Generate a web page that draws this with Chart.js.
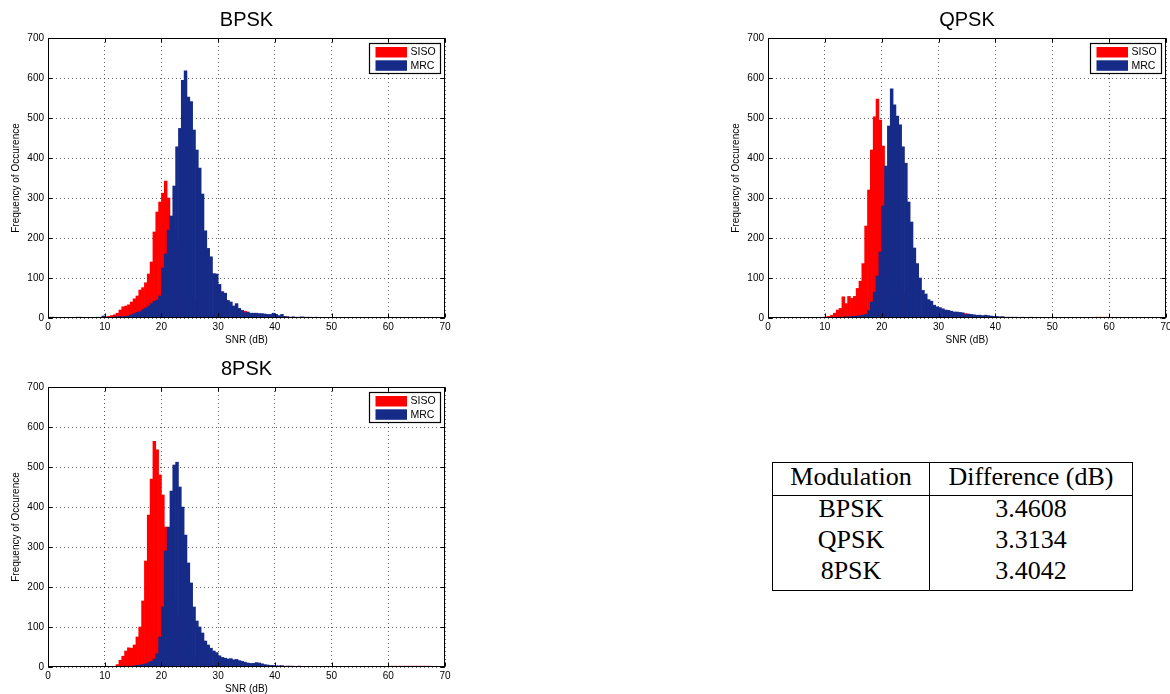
<!DOCTYPE html>
<html>
<head>
<meta charset="utf-8">
<script src="https://cdn.jsdelivr.net/npm/chart.js@4.4.1/dist/chart.umd.min.js"></script>
<style>
  html, body { margin: 0; padding: 0; background: #fff; width: 1170px; height: 694px; overflow: hidden; }
  .panel { position: absolute; }
  canvas { display: block; }
  #tbl { position: absolute; left: 772px; top: 462px; width: 361px; border-collapse: collapse;
         border: 1px solid #000; font-family: 'Liberation Serif', 'Times New Roman', serif; font-size: 26px; color: #000; }
  #tbl th { font-weight: normal; line-height: 28px; padding: 0 0 4px 0; border-bottom: 1px solid #000; text-align: center; }
  #tbl td { line-height: 26px; padding: 0 0 5.2px 0; text-align: center; }
  #tbl th:first-child, #tbl td:first-child { width: 156px; border-right: 1px solid #000; }
</style>
</head>
<body>
<div class="panel" style="left:0;top:0;width:460px;height:350px"><canvas id="cBPSK" width="460" height="350"></canvas></div>
<div class="panel" style="left:720px;top:0;width:460px;height:350px"><canvas id="cQPSK" width="460" height="350"></canvas></div>
<div class="panel" style="left:0;top:349px;width:460px;height:350px"><canvas id="c8PSK" width="460" height="350"></canvas></div>
<table id="tbl"><thead><tr></tr></thead><tbody></tbody></table>

<script>
// ---------- DATA ----------
// Histogram bins: left edges 0, 0.5, ..., 69.5 dB (bin width 0.5 dB); one row = 10 dB
const binStart = 0;
const binWidth = 0.5;
const seriesLabels = ['SISO', 'MRC'];
const xTicksMax = 70;
const yTicksMax = 700;

const bpskSiso = [
  2,2,1,0,0,0,0,0,0,0, 0,0,0,0,0,0,0,0,0,0,
  3,4,6,8,12,20,28,30,33,40, 48,55,70,76,88,110,140,215,265,290,
  312,342,300,240,215,185,155,125,100,80, 60,45,35,25,18,14,10,8,6,5,
  4,4,3,3,3,2,2,2,2,17, 5,3,2,2,2,1,1,1,1,1,
  1,1,1,2,3,1,1,0,0,0, 0,0,0,0,0,0,0,0,0,0,
  0,0,0,0,0,0,0,0,0,0, 0,0,0,0,0,0,0,0,0,0,
  0,0,0,0,0,0,0,0,0,0, 0,0,0,0,0,0,0,0,0,0
];
const bpskMrc = [
  0,1,0,0,0,0,1,0,0,1, 2,2,0,0,0,0,1,2,0,5,
  2,2,2,3,3,4,3,4,5,8, 11,14,16,21,25,30,36,42,45,55,
  125,160,220,255,330,428,474,594,618,552, 541,470,420,375,310,218,174,153,111,110,
  84,66,62,44,40,30,36,24,19,13, 15,12,12,12,11,11,10,9,9,12,
  9,6,9,4,3,2,3,2,2,3, 2,2,2,1,2,1,1,1,0,1,
  1,0,1,1,0,1,0,0,1,0, 1,0,0,1,0,0,1,0,0,1,
  0,0,1,0,0,1,0,0,0,1, 0,0,1,0,0,0,1,0,0,1
];

const qpskSiso = [
  0,0,0,0,0,0,0,0,0,0, 0,0,0,0,0,0,0,0,1,2,
  3,4,7,12,20,24,53,36,54,49, 54,74,92,136,230,320,420,503,547,495,
  430,350,270,200,150,110,80,60,45,35, 28,20,16,12,10,8,6,5,4,3,
  3,3,2,2,2,2,2,2,2,11, 3,2,1,1,1,1,1,1,1,1,
  1,1,3,1,0,0,0,0,0,0, 0,0,0,0,0,0,0,0,0,0,
  0,0,0,0,0,0,0,0,0,0, 0,0,0,0,0,2,2,2,2,2,
  0,0,0,0,0,0,0,0,0,0, 0,0,0,0,0,0,0,0,0,0
];
const qpskMrc = [
  0,0,0,0,0,0,0,1,0,1, 0,1,0,1,0,1,0,1,1,1,
  1,1,2,1,2,2,2,3,3,4, 4,5,6,7,9,19,40,65,105,165,
  280,380,480,573,533,505,483,428,387,290, 240,175,136,100,69,60,46,42,32,28,
  26,23,20,19,17,15,15,14,13,8, 10,9,8,7,7,6,7,6,5,4,
  4,3,3,2,2,2,2,2,1,2, 1,1,2,1,1,1,1,1,1,1,
  1,1,0,1,1,0,1,0,1,0, 1,0,1,0,0,1,0,0,1,0,
  1,0,0,1,0,0,0,1,0,0, 1,0,0,0,1,0,0,0,0,0
];

const psk8Siso = [
  0,0,0,0,0,0,0,0,0,0, 0,0,0,0,0,0,0,0,0,0,
  0,0,0,0,6,17,27,40,48,47, 55,75,100,165,265,380,470,564,543,480,
  430,350,290,220,170,130,100,75,55,42, 32,25,20,15,12,10,8,6,5,4,
  3,3,2,2,2,2,2,2,1,1, 1,1,1,1,1,1,1,1,1,2,
  2,1,3,1,2,2,1,1,2,1, 1,0,1,0,0,0,0,0,0,0,
  0,0,0,0,0,0,0,0,0,0, 0,0,0,0,0,0,0,0,0,0,
  2,2,2,2,2,2,2,2,2,2, 2,2,2,2,2,0,0,0,0,0
];
const psk8Mrc = [
  0,0,0,0,0,0,0,0,0,0, 0,0,0,0,0,0,0,0,0,0,
  2,1,1,1,1,2,2,2,2,2, 3,4,5,6,8,11,14,20,33,75,
  150,290,350,440,505,512,450,400,330,260, 210,150,115,100,85,65,55,47,40,36,
  28,24,22,20,21,18,19,16,14,12, 10,9,9,11,10,8,6,5,4,4,
  3,3,3,2,2,2,2,1,2,1, 1,1,1,1,1,1,1,1,1,1,
  1,1,1,1,1,1,1,1,1,1, 1,1,1,1,1,1,1,1,1,1,
  1,1,1,1,1,0,0,0,0,0, 0,0,0,0,0,0,0,0,0,0
];

const tableHeader = ['Modulation', 'Difference (dB)'];
const modulations = ['BPSK', 'QPSK', '8PSK'];
const differences = ['3.4608', '3.3134', '3.4042'];

// ---------- STYLE ----------
const SANS = "'Liberation Sans', Arial, Helvetica, sans-serif";
const sisoColor = '#ff0000';
const mrcColor = '#162a87';

const framePlugin = {
  id: 'matlabFrame',
  afterDatasetsDraw(chart) {
    const { ctx, chartArea: a, scales: { x, y } } = chart;
    ctx.save();
    ctx.strokeStyle = '#000';
    ctx.lineWidth = 1;
    const L = Math.round(a.left) + 0.5, R = Math.round(a.right) - 0.5;
    const T = Math.round(a.top) + 0.5, B = Math.round(a.bottom) - 0.5;
    ctx.strokeRect(L, T, R - L, B - T);
    const tl = 4;
    ctx.beginPath();
    x.ticks.forEach(t => {
      const px = Math.round(x.getPixelForValue(t.value)) + 0.5;
      ctx.moveTo(px, B); ctx.lineTo(px, B - tl);
      ctx.moveTo(px, T); ctx.lineTo(px, T + tl);
    });
    y.ticks.forEach(t => {
      const py = Math.round(y.getPixelForValue(t.value)) + 0.5;
      ctx.moveTo(L, py); ctx.lineTo(L + tl, py);
      ctx.moveTo(R, py); ctx.lineTo(R - tl, py);
    });
    ctx.stroke();
    ctx.restore();
  },
  afterDraw(chart) {
    const { ctx, chartArea: a } = chart;
    const w = 71, h = 30;
    const x0 = Math.round(a.right - 5 - w) + 0.5, y0 = Math.round(a.top + 5) + 0.5;
    ctx.save();
    ctx.fillStyle = '#fff';
    ctx.fillRect(x0, y0, w, h);
    ctx.strokeStyle = '#000';
    ctx.lineWidth = 1.2;
    ctx.strokeRect(x0, y0, w, h);
    ctx.font = '10.5px ' + SANS;
    ctx.textBaseline = 'middle';
    ctx.textAlign = 'left';
    chart.data.datasets.forEach((ds, i) => {
      const sy = y0 + 3.5 + i * 13.3;
      ctx.fillStyle = ds.backgroundColor;
      ctx.fillRect(x0 + 6, sy, 31.5, 10.5);
      ctx.fillStyle = '#000';
      ctx.fillText(ds.label, x0 + 41, sy + 5.6);
    });
    ctx.restore();
  }
};

function toPoints(arr) {
  return arr.map((v, i) => ({ x: binStart + (i + 0.5) * binWidth, y: v }));
}

function makeChart(id, title, siso, mrc, padRight) {
  const tickFont = { family: SANS, size: 10 };
  const gridCfg = { color: 'rgba(0,0,0,0.6)', lineWidth: 1, drawTicks: false, offset: false, borderDash: [1, 3] };
  const borderCfg = { display: false, dash: [1, 3] };
  return new Chart(document.getElementById(id), {
    type: 'bar',
    data: {
      datasets: [
        { label: seriesLabels[0], data: toPoints(siso), backgroundColor: sisoColor, order: 1 },
        { label: seriesLabels[1], data: toPoints(mrc), backgroundColor: mrcColor, order: 0 }
      ]
    },
    options: {
      responsive: false,
      animation: false,
      events: [],
      datasets: { bar: { barPercentage: 1, categoryPercentage: 1, grouped: false, borderWidth: 0 } },
      layout: { padding: { left: 0, right: padRight, top: 0, bottom: 0 } },
      plugins: {
        legend: { display: false },
        tooltip: { enabled: false },
        title: {
          display: true, text: title, color: '#000', fullSize: false,
          font: { family: SANS, size: 20, weight: 'normal' },
          padding: { top: 8, bottom: 6 }
        }
      },
      scales: {
        x: {
          type: 'linear', min: 0, max: xTicksMax, offset: false,
          ticks: { stepSize: 10, padding: 3, font: tickFont, color: '#000', maxRotation: 0, autoSkip: false },
          grid: gridCfg, border: borderCfg,
          title: { display: true, text: 'SNR (dB)', color: '#000', font: tickFont, padding: { top: 0, bottom: 4 } },
          afterFit: s => { s.height = 32; }
        },
        y: {
          type: 'linear', min: 0, max: yTicksMax,
          ticks: { stepSize: 100, padding: 4, font: tickFont, color: '#000' },
          grid: gridCfg, border: borderCfg,
          title: { display: true, text: 'Frequency of Occurence', color: '#000', font: tickFont, padding: { top: 10, bottom: 0 } },
          afterFit: s => { s.width = 48; }
        }
      }
    },
    plugins: [framePlugin]
  });
}

makeChart('cBPSK', modulations[0], bpskSiso, bpskMrc, 15);
makeChart('cQPSK', modulations[1], qpskSiso, qpskMrc, 14);
makeChart('c8PSK', modulations[2], psk8Siso, psk8Mrc, 15);

// ---------- TABLE ----------
const headRow = document.querySelector('#tbl thead tr');
tableHeader.forEach(t => { const th = document.createElement('th'); th.textContent = t; headRow.appendChild(th); });
const tbody = document.querySelector('#tbl tbody');
modulations.forEach((m, i) => {
  const tr = document.createElement('tr');
  [m, differences[i]].forEach(t => { const td = document.createElement('td'); td.textContent = t; tr.appendChild(td); });
  tbody.appendChild(tr);
});
</script>
</body>
</html>
